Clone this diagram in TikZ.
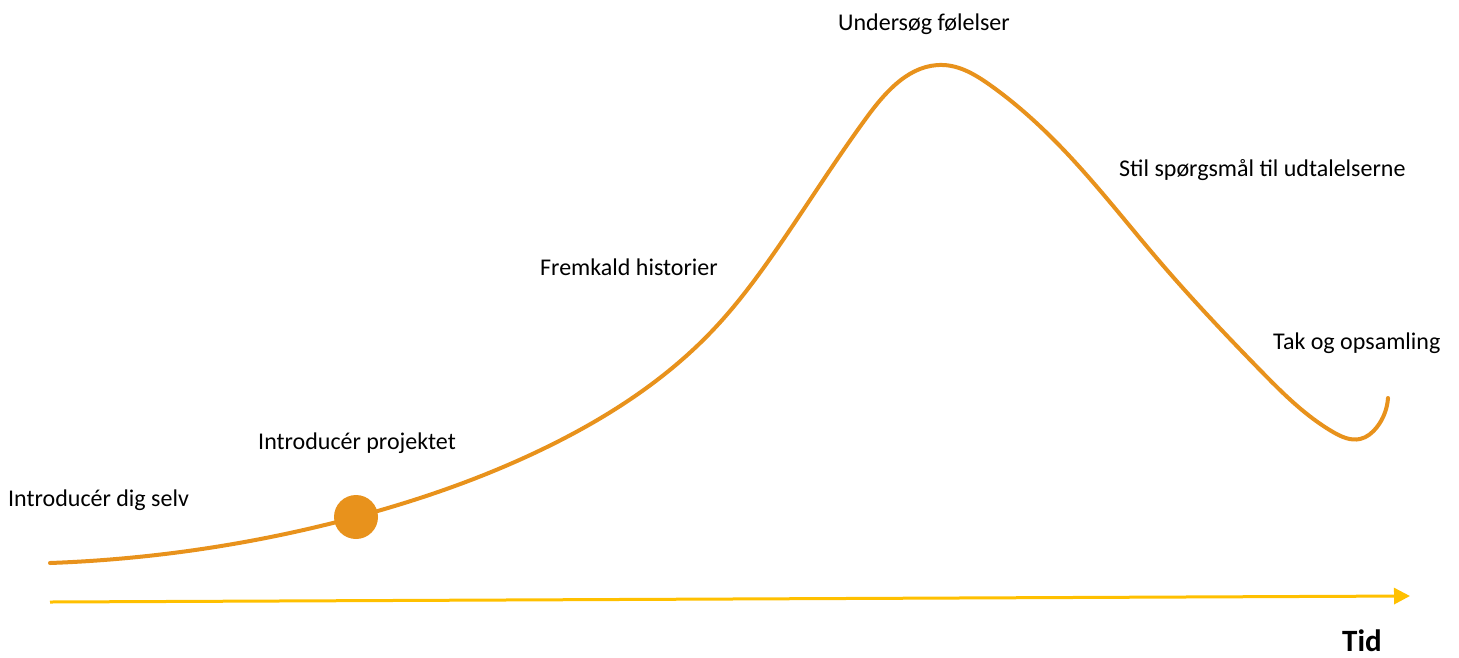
\documentclass[tikz,border=0pt]{standalone}
\usepackage{fontspec}
\setmainfont{Carlito}
\usetikzlibrary{arrows.meta,hobby}
\definecolor{curveor}{HTML}{E8921C}
\definecolor{axisyel}{HTML}{FFC000}
\tikzset{
  lbl/.style={anchor=west, inner sep=0pt, font=\fontsize{24}{28}\selectfont, text=black},
  curve/.style={draw=curveor, line width=4pt, line cap=round},
  axis/.style={draw=axisyel, line width=3pt, -{Triangle[length=16pt,width=16pt]}},
}
\begin{document}
\begin{tikzpicture}[x=1pt,y=-1pt]
\useasboundingbox (0,0) rectangle (1459,657);
\draw[curve, use Hobby shortcut] (50,563) .. (356,517) .. (547,447) .. (713,330) .. (783,240) .. (867,117) .. (943,65) .. (990,85) .. (1057,143) .. (1160,262) .. (1260,370) .. (1333,432) .. (1360,439) .. (1377,427) .. (1388,398);
\node[circle, fill=curveor, minimum size=44pt, inner sep=0pt] (dot) at (356,517) {};
\coordinate (a0) at (50,602);
\coordinate (a1) at (1410,596);
\draw[axis] (a0) -- (a1);
\node[lbl] (t1) at (8,500) {Introducér dig selv};
\node[lbl] (t2) at (258,443) {Introducér projektet};
\node[lbl] (t3) at (540,267) {Fremkald historier};
\node[lbl] (t4) at (838,24) {Undersøg følelser};
\node[lbl] (t5) at (1119,170) {Stil spørgsmål til udtalelserne};
\node[lbl] (t6) at (1273,343) {Tak og opsamling};
\node[anchor=base west, inner sep=0pt, font=\fontsize{31}{34}\selectfont\bfseries] (tid) at (1342,651) {Tid};
\end{tikzpicture}
\end{document}
